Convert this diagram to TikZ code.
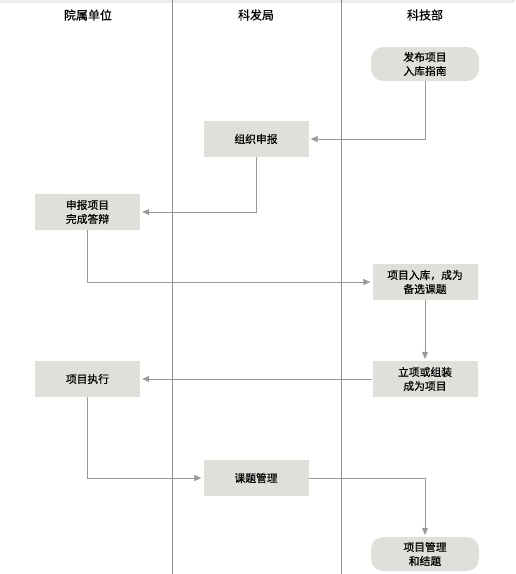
\documentclass[tikz,border=0pt]{standalone}
\usepackage{fontspec}
\setmainfont{Noto Sans CJK SC}[FakeBold=0.6,BoldFont={Noto Sans CJK SC}]
\usetikzlibrary{arrows.meta}
\definecolor{boxfill}{HTML}{E0DFDA}
\definecolor{linegray}{HTML}{999999}
\definecolor{lanegray}{HTML}{8C8C8C}
\begin{document}
\begin{tikzpicture}[x=1pt,y=-1pt,
  stepbox/.style={fill=boxfill,draw=none,minimum width=105pt,minimum height=36pt,inner sep=1pt,align=center,font=\fontsize{10.8}{14}\selectfont},
  termbox/.style={stepbox,rounded corners=12pt,minimum width=108pt,minimum height=34pt},
  header/.style={font=\fontsize{12}{14}\selectfont},
  conn/.style={draw=linegray,line width=0.8pt,-{Triangle[length=7pt,width=6pt,fill=linegray]},shorten >=2pt}
]
\useasboundingbox (0,0) rectangle (515,574);
\fill[black!7] (0,0) rectangle (515,2.5);
\draw[lanegray,line width=0.9pt] (172,0) -- (172,574);
\draw[lanegray,line width=0.9pt] (341,0) -- (341,574);
\node[header] (h1) at (88,15) {院属单位};
\node[header] (h2) at (256,15) {科发局};
\node[header] (h3) at (425,15) {科技部};

\node[termbox] (a) at (425,64) {发布项目\\入库指南};
\node[stepbox] (b) at (256,139) {组织申报};
\node[stepbox] (c) at (87.5,212) {申报项目\\完成答辩};
\node[stepbox] (d) at (425,282) {项目入库，成为\\备选课题};
\node[stepbox] (e) at (425,379) {立项或组装\\成为项目};
\node[stepbox] (f) at (87.5,379) {项目执行};
\node[stepbox] (g) at (256,478) {课题管理};
\node[termbox] (h) at (425,554) {项目管理\\和结题};

\draw[conn] (a.south) |- (b.east);
\draw[conn] (b.south) |- (c.east);
\draw[conn] (c.south) |- (d.west);
\draw[conn] (d.south) -- (e.north);
\draw[conn] (e.west) -- (f.east);
\draw[conn] (f.south) |- (g.west);
\draw[conn] (g.east) -| (h.north);
\end{tikzpicture}
\end{document}
